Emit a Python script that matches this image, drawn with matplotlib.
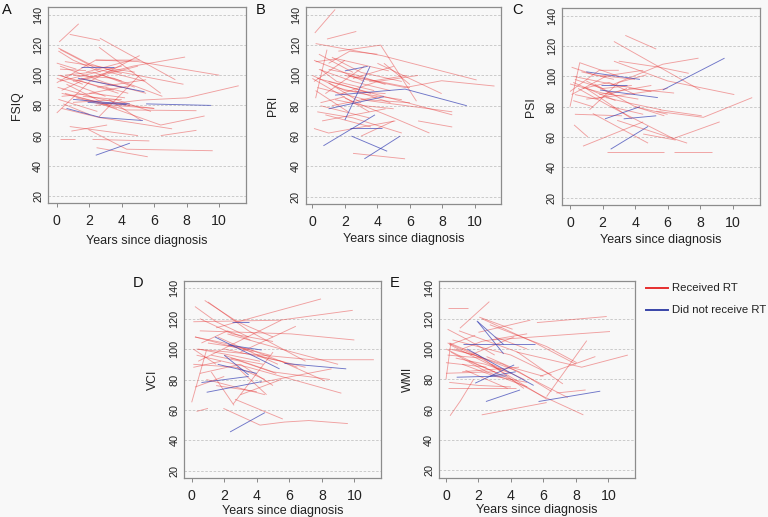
import matplotlib
matplotlib.use("Agg")
import matplotlib.pyplot as plt
from matplotlib.lines import Line2D

# ---------------- data (years since diagnosis, score, RT flag) ----------------
fsiq_years = [[0.15,1.35],[0.8,2.65],[2.65,7.3],[2.6,6.4],[0.1,1.9,4.0],[0.2,2.5,5.4],[0.1,1.0,2.7],
              [2.4,5.0,10.0],[1.0,4.7,7.9],[3.0,7.8],[2.4,5.2,8.0,11.2],[0.0,2.05,5.1],[2.6,5.1],
              [0.0,2.4,5.1],[0.5,4.3,8.6],[3.0,6.4,9.1],[6.4,8.6],[1.95,4.3,9.6],[2.45,5.6],[0.2,1.1],
              [2.2,5.7],[0.8,5.0],[0.9,3.1],[0.3,2.6,7.1],[0.1,3.5],[0.2,3.0,5.5],[0.05,2.0,4.5],
              [0.3,2.2,4.2],[1.0,3.5,6.5],[0.6,2.8,6.0],[0.2,1.8],[1.8,4.6],[0.5,4.8],[0.3,3.3],
              [1.0,4.0],[0.1,2.5],[2.0,4.5],[1.5,4.0],[3.2,5.2],[0.0,1.5,3.0],[0.4,2.0],[3.5,6.0],
              [0.2,4.0],[2.5,5.5],[1.2,3.7],[0.3,1.5,3.8],[1.2,2.8,4.8],[0.0,1.2],[2.8,5.0],
              [0.5,2.2,4.0],[1.6,3.6,5.8],[0.2,1.6],[3.0,4.4],
              [0.6,2.7,5.3],[1.5,3.5],[1.3,5.4],[1.9,4.3],[5.5,9.5],[2.4,4.5],[1.0,3.0,4.5]]
fsiq_scores = [[122,134],[127,123],[124.5,97],[118.5,88],[118,108,101],[117,104,96],[116,110,102],
               [110,109,100],[96,106,112],[104,94],[80,83.5,85,93],[75,96,113],[72.5,100],
               [95,110,110],[88,77,76.5],[80,67,73],[60,63.5],[64,51,50],[52,46],[58,58],
               [57.5,56.5],[66,60],[63,67],[78,72,64.5],[100,90],[106,95,88],[92,86,80],
               [86,88,85],[100,98,86],[94,82,78],[104,103],[102,110],[109,102],[88,80],
               [82,84],[84,76],[88,93],[98,92],[84,70],[98,92,86],[81,74],[80,78],
               [96,106],[92,97],[85,78],[90,96,88],[96,100,92],[108,104],[100,106],
               [100,102,96],[86,84,76],[100,94],[92,88],
               [78,72,70],[105.5,105.5],[98,89],[82,80.5],[81,80],[47,55],[84,82,81]]
fsiq_rt = [1]*53 + [0]*7

pri_years = [[0.15,1.4],[0.9,2.7],[1.6,4.2,6.4],[0.2,4.3,10.1],[2.0,5.7,7.95,11.2],[0.2,1.5,4.7],
             [4.0,7.95],[1.0,8.6],[6.5,8.6],[0.1,1.0,5.1],[2.5,5.7],[0.2,0.9],[0.1,1.5,3.2],
             [0.4,2.5,4.8],[0.0,2.0,4.5],[1.2,3.0,5.5],[0.3,3.3,6.0],[0.5,3.5],[0.3,2.5,5.5],
             [1.0,3.0],[1.8,4.0,6.5],[0.6,4.5],[2.0,5.0,7.2],[3.0,5.0],[0.8,3.2],[2.5,5.0],
             [1.5,3.0,5.5],[0.1,2.0],[3.5,5.8],[3.0,8.6],[0.5,1.5,3.8],[0.2,2.2],[1.2,4.0],
             [2.2,6.0],[0.4,2.5],[4.4,6.0],[0.0,3.5],[1.0,2.3,4.0],[0.8,3.6],
             [0.3,1.8,3.6],[1.0,2.8,4.5],[0.5,2.0],[2.6,4.8],[1.4,3.2,5.0],
             [1.4,5.7,9.5],[1.0,4.4],[2.0,3.55],[2.0,3.4],[0.68,3.85],[2.3,4.3],[2.4,4.6],[3.2,5.4]]
pri_scores = [[128,143.5],[124,129],[116,120,83],[121,113,97],[100,92,96.5,93],[109,111,103],
              [108,88],[96,74],[70,66],[65,62,70],[48.6,45],[85,117],[110,104,96],
              [104,96,90],[100,90,88],[112,102,96],[92,84,82],[80,72],[76,72,62],
              [95,82],[88,96,100],[70,78],[85,72,62],[60,70],[88,106],[98,106],
              [92,88,84],[96,110],[96,100],[84,76],[104,96,90],[90,76],[80,86],
              [100,92],[114,102],[108,94],[98,76],[108,116,114],[74,66],
              [98,94,88],[104,100,94],[82,86],[90,82],[84,80,78],
              [87,91,80],[78,86],[70.6,106],[103,106],[53.6,74],[65,65],[60,50],[45,60]]
pri_rt = [1]*44 + [0]*8

psi_years = [[3.4,5.3],[2.7,8.0],[2.7,6.0,10.1],[2.5,5.7,7.9],[2.25,5.8],[6.4,8.7],[5.3,8.2,11.2],
             [2.5,6.35,9.2],[0.0,0.6,3.0],[0.25,1.1],[0.8,4.5],[1.4,4.8],[2.9,7.2],[0.1,1.5,4.0],
             [0.2,2.5,5.0],[0.0,2.0,4.2],[0.3,1.6,3.5],[0.1,2.2],[0.5,2.5,4.5],[1.0,3.5,6.0],
             [0.3,3.2],[1.2,3.0,4.7],[1.5,4.0,6.0],[0.7,2.7],[3.0,5.5,7.3],[0.0,1.8,3.0],
             [2.0,4.5],[4.0,5.8],[1.0,3.8],[5.5,8.1],[4.5,6.5],[0.2,2.8],[1.8,5.0],[3.6,6.4],
             [0.3,2.0,3.8],[0.8,2.4,4.0],[0.2,1.4],[2.2,3.8,5.6],[1.0,2.6],
             [5.7,9.5],[2.5,4.8],[1.0,4.3],[1.85,5.4],[2.15,4.3],[3.3,5.3],[1.9,3.5]]
psi_scores = [[127,118],[123,91],[110,97,88],[94,108,112],[50,50],[50,50],[77,73,86],
              [80,59,70],[80,109,100],[68,60],[54,70],[75.5,56],[71,56],[106,101,98],
              [100,95,90],[95,89,85],[88,85,92],[88,100],[92,80,75],[85,88,92],
              [75,74],[78,96,101],[95,80,75],[103,98],[110,106,102],[90,104,104],
              [100,104],[80,74],[92,72],[78,74],[62,58],[96,84],[88,94],[92,89],
              [98,92,94],[92,96,88],[84,80],[86,82,78],[97,88],
              [91,112],[52,67],[103,98],[91,86],[72,80],[72,74],[94,94]]
psi_rt = [1]*39 + [0]*7

vci_years = [[0.8,2.8,5.0],[0.2,1.5,3.5],[1.0,3.5,7.0],[1.5,4.7,7.95],[0.1,5.4,9.9],[0.5,6.1,10.0],
             [0.3,7.4,11.2],[1.95,4.2,5.7,7.2,9.6],[2.66,5.6],[0.3,1.0],[0.0,0.9],[2.56,5.0],
             [0.2,2.0,4.8],[0.4,5.5],[1.0,3.5,6.5],[0.1,2.8,4.5],[0.5,3.0,5.0],[1.5,4.0],[0.2,2.0],
             [2.0,5.0,8.5],[3.0,6.4],[1.6,5.3],[0.3,3.5,9.2],[4.2,8.6],[2.0,5.5,8.2],[0.9,4.5],
             [0.5,2.5,5.0],[2.2,5.5,9.0],[1.2,2.6],[0.2,3.8],[3.0,5.5],[2.8,4.6],[4.0,7.0],[0.1,1.5],
             [0.4,2.4,4.2],[1.2,3.0,5.2],[0.1,1.8],[2.4,4.4],[0.6,2.2,3.6],
             [5.7,9.5],[1.43,5.4],[2.25,4.3],[2.46,3.5],[1.6,4.0],[0.6,3.5],[0.92,4.3],[2.36,4.5],[2.0,3.5]]
vci_scores = [[132,118,108],[128,118,108],[131,112,92],[114,123.5,133],[118,119,125.5],[112,110,106],
              [100,93,93],[61,50,52,53,51],[67,54],[59,61],[65,99],[64,98],
              [108,104,96],[92,119],[104,100,88],[90,88,80],[84,90,76],[76,72],[75,82],
              [96,85,80],[98,115],[108,90],[96,88,71],[78,87],[100,92,79],[80,70],
              [120,110,105],[110,100,90],[85,63],[108,98],[70,80],[88,70],[96,88],[100,90],
              [100,96,92],[96,92,84],[88,92],[94,90],[104,112,106],
              [90.6,87],[108,87],[102.7,99.4],[118,118],[90,84],[78,82],[71.6,78.6],[45.5,58.2],[96,83]]
vci_rt = [1]*39 + [0]*9

wmi_years = [[0.14,1.38],[0.86,2.67],[2.05,4.1],[2.0,5.2],[5.6,9.9],[2.9,10.1],[4.35,8.36,11.2],
             [6.2,8.67],[5.8,9.2],[6.8,8.6],[2.2,6.2],[4.0,6.0,8.46],[0.25,0.9,1.7],[0.0,0.3],
             [0.1,2.0,4.5,6.5],[0.2,3.0,6.2],[0.0,1.5,4.0],[0.3,2.5,5.0],[0.1,1.0,3.0],[0.2,2.0,4.8],
             [0.5,3.5,7.5],[0.0,2.5],[0.1,1.5,4.3],[0.2,2.0,4.0],[1.0,3.0,5.0],[2.7,6.2,8.05],
             [2.2,5.5,8.0],[0.4,4.0,6.5],[1.0,2.2,5.0],[3.0,5.0],[0.0,3.0],[1.5,4.2],[0.3,1.8],
             [2.5,4.0,6.0],[1.0,4.5],[0.8,4.4,7.2],[1.2,3.8],
             [0.2,1.8,3.4],[0.6,2.4,4.0],[1.4,3.2],[0.1,2.2],[2.8,4.8],
             [1.95,3.55],[1.9,3.55],[1.07,5.5],[0.66,3.74],[1.8,4.2],[1.3,3.0,5.4],[2.46,4.56],
             [5.7,9.5],[2.7,4.3]]
wmi_scores = [[127.3,127.3],[113.7,131.2],[121,113],[111,119],[117.4,121.4],[106,111.5],[98,88,96],
              [68.7,105.5],[82,95],[71,73],[56.6,64.7],[80,68.7,56.6],[56,66,80],[80,104],
              [104,95,85,72],[103,88,67],[100,92,80],[98,85,75],[113,108,96],[104,96,74],
              [100,90,68],[91,88],[74,74,74],[78,76,75],[90,82,78],[116,101.6,91],
              [120,104,90],[106,96,83],[100,105,110],[108,100],[84,85],[96,108],[103,109],
              [95,88,82],[85,88],[112,98,77],[86,74],
              [100,96,86],[94,90,84],[92,84],[96,94],[90,80],
              [118,96.8],[118.5,103],[103,103],[81.4,82.3],[77.5,89.5],[100,90,76],[65.4,73],
              [65.4,72.2],[82,85]]
wmi_rt = [1]*42 + [0]*9

x_ticks = [0, 2, 4, 6, 8, 10]
y_ticks = [20, 40, 60, 80, 100, 120, 140]
legend_labels = ["Received RT", "Did not receive RT"]

# ---------------- layout ----------------
W, H = 768, 517
fig = plt.figure(figsize=(W/100, H/100), dpi=100)
BG = "#f8f8f8"
fig.patch.set_facecolor(BG)
FONT = ["Liberation Sans", "DejaVu Sans"]
plt.rcParams["font.family"] = FONT

RED = (0.90, 0.20, 0.20)
BLUE = (0.20, 0.24, 0.70)

def px_axes(l, r, t, b):
    return fig.add_axes([l/W, 1-b/H, (r-l)/W, (b-t)/H])

panels = [
    ("A", "FSIQ", fsiq_years, fsiq_scores, fsiq_rt, (48, 246, 7.5, 203.3), (-0.54, 11.65), (2, 3), 17, 244),
    ("B", "PRI", pri_years, pri_scores, pri_rt, (305.7, 501, 7.5, 204), (-0.41, 11.6), (256, 3), 273, 242),
    ("C", "PSI", psi_years, psi_scores, psi_rt, (561.7, 760, 8.4, 205), (-0.51, 11.68), (512, 3), 531, 243),
    ("D", "VCI", vci_years, vci_scores, vci_rt, (184.3, 380.7, 281, 478), (-0.455, 11.62), (133, 276), 153, 514),
    ("E", "WMI", wmi_years, wmi_scores, wmi_rt, (439, 635.3, 281, 477.7), (-0.43, 11.66), (390, 276), 408, 513),
]

for letter, ylab, yrs, scs, rt, box, xlim, lpos, ylx, xlb in panels:
    l, r, t, b = box
    ax = px_axes(l, r, t, b)
    ax.set_facecolor(BG)
    ax.set_xlim(*xlim)
    ax.set_ylim(15.2, 144.8)
    for yv in y_ticks:
        ax.axhline(yv, color="#c4c4c4", lw=0.6, ls=(0, (3, 2)), zorder=1)
    for flag in (1, 0):
        for xs, ys, f in zip(yrs, scs, rt):
            if f != flag:
                continue
            ax.plot(xs, ys, color=RED if f else BLUE, alpha=0.45 if f else 0.7,
                    lw=0.65, zorder=2 if f else 3, solid_capstyle="butt")
    ax.set_xticks(x_ticks)
    ax.set_xticklabels([str(v) for v in x_ticks], fontsize=10.2, color="#222222")
    ax.set_yticks(y_ticks)
    ax.set_yticklabels([str(v) for v in y_ticks], fontsize=7.8, color="#222222",
                       rotation=90, va="center")
    ax.tick_params(axis="x", length=3, width=0.7, color="#888888", pad=5)
    ax.tick_params(axis="y", length=0, pad=3.5)
    for s in ax.spines.values():
        s.set_color("#8c8c8c")
        s.set_linewidth(0.9)
    fig.text(lpos[0]/W, 1-lpos[1]/H, letter, fontsize=10.5, ha="left", va="top", color="#111111")
    fig.text(ylx/W, 1-((t+b)/2)/H, ylab, fontsize=8.8, rotation=90, ha="center", va="center",
             color="#222222")
    fig.text(((l+r)/2)/W, 1-xlb/H, "Years since diagnosis", fontsize=9.0, ha="center",
             va="baseline", color="#222222")

# legend
for i, (lab, col) in enumerate(zip(legend_labels, [(0.90, 0.18, 0.18), (0.22, 0.27, 0.66)])):
    yy = 287.7 + i*22.3
    fig.add_artist(Line2D([646/W, 668/W], [1-yy/H, 1-yy/H], color=col, lw=1.4))
    fig.text(672/W, 1-yy/H, lab, fontsize=8.2, ha="left", va="center", color="#222222")

fig.savefig("out.png", dpi=100, facecolor=BG)
